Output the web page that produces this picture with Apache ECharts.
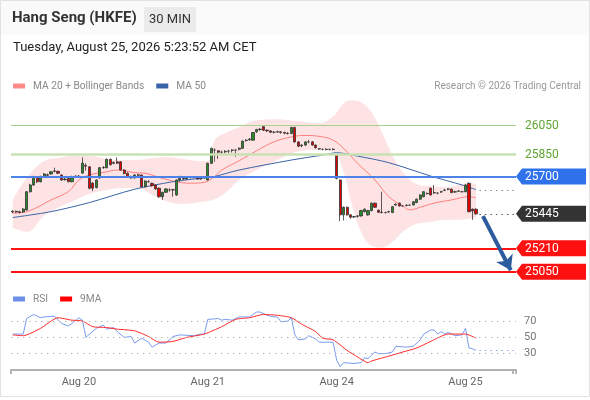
<!DOCTYPE html>
<html><head><meta charset="utf-8">
<script src="https://cdn.jsdelivr.net/npm/echarts@6/dist/echarts.min.js"></script>
<style>html,body{margin:0;padding:0;background:#fff}#c{width:590px;height:400px}</style>
</head><body><div id="c"></div>
<script>
// ---------- DATA ----------
const categoryCount = 145;
const tickIndex = [19, 56, 93, 130];
const tickLabels = ['Aug 20', 'Aug 21', 'Aug 24', 'Aug 25'];

const opens = [25462,25458,25460,25458,25472,25596,25642,25694,25664,25700,
25712,25717,25735,25735,25710,25678,25686,25664,25700,25700,
25723,25775,25766,25655,25625,25690,25760,25760,25817,25790,
25800,25800,25744,25722,25700,25690,25712,25710,25630,25665,
25653,25642,25620,25562,25592,25608,25608,25574,25676,25686,
25683,25692,25698,25690,25683,25692,25676,25790,25880,25875,
25866,25868,25873,25878,25880,25885,25892,25945,25950,25948,
26005,26020,26040,26016,26011,26002,26004,26005,26000,25993,
25993,26034,25936,25910,25914,25936,25936,25914,25890,25885,
25886,25885,25884,25846,25676,25438,25490,25438,25424,25428,
25431,25460,25438,25467,25518,25470,25456,25454,25458,25454,
25505,25518,25499,25502,25504,25506,25522,25545,25562,25585,
25620,25588,25586,25594,25606,25613,25613,25594,25599,25596,
25596,25653,25477,25477];
const closes = [25458,25462,25455,25478,25596,25642,25696,25664,25700,25717,
25708,25732,25738,25722,25676,25682,25664,25700,25702,25703,
25791,25770,25620,25620,25676,25760,25762,25817,25780,25796,
25790,25744,25720,25700,25690,25710,25708,25630,25669,25665,
25637,25615,25562,25592,25615,25608,25610,25676,25688,25683,
25692,25698,25692,25683,25692,25698,25790,25892,25880,25866,
25866,25872,25873,25880,25880,25893,25941,25948,25955,26000,
26020,26023,26016,26011,26002,26002,26005,26000,25995,25995,
26034,25936,25907,25914,25936,25936,25914,25896,25887,25885,
25884,25885,25886,25687,25438,25490,25438,25422,25426,25431,
25467,25477,25467,25518,25490,25456,25454,25454,25460,25494,
25511,25499,25499,25504,25504,25528,25545,25574,25596,25583,
25574,25590,25586,25596,25608,25615,25590,25596,25601,25596,
25642,25460,25465,25445];
const lows = [25450,25452,25448,25452,25468,25590,25636,25655,25660,25694,
25700,25712,25728,25716,25670,25672,25660,25660,25694,25696,
25718,25740,25612,25600,25618,25685,25752,25755,25775,25784,
25785,25740,25714,25694,25684,25686,25702,25624,25625,25656,
25630,25610,25555,25540,25588,25596,25562,25568,25665,25676,
25678,25688,25686,25678,25678,25686,25672,25784,25800,25820,
25850,25858,25860,25864,25835,25878,25888,25938,25944,25944,
25998,26012,26010,26004,25996,25994,25998,25992,25988,25986,
25988,25930,25900,25900,25908,25926,25910,25890,25880,25878,
25878,25878,25878,25680,25395,25400,25432,25412,25416,25420,
25426,25455,25432,25462,25485,25450,25448,25446,25452,25450,
25500,25494,25492,25496,25498,25502,25518,25540,25558,25576,
25570,25580,25578,25588,25600,25606,25586,25588,25594,25590,
25592,25455,25404,25438];
const highs = [25470,25468,25466,25485,25600,25650,25705,25700,25706,25724,
25720,25738,25760,25740,25714,25690,25690,25705,25708,25710,
25830,25790,25770,25660,25680,25765,25770,25822,25822,25802,
25830,25805,25750,25728,25706,25716,25718,25714,25674,25675,
25658,25646,25625,25596,25620,25620,25616,25680,25705,25692,
25698,25704,25703,25696,25698,25703,25794,25896,25892,25880,
25876,25880,25882,25886,25888,25898,25946,25955,25962,26004,
26025,26030,26045,26020,26015,26010,26012,26010,26006,26002,
26040,26040,25940,25920,25940,25950,25942,25918,25894,25890,
25892,25890,25892,25850,25680,25495,25495,25442,25432,25436,
25472,25482,25472,25522,25522,25474,25596,25460,25466,25498,
25516,25522,25505,25510,25510,25532,25550,25578,25600,25590,
25625,25642,25594,25602,25614,25620,25618,25602,25606,25602,
25648,25660,25482,25482];

// MA 20 and MA 50 read at [bar index, price]
const ma20 = [[0,25450],[4,25460],[11,25540],[16,25597],[19,25676],[22,25710],[27,25732],[30,25744],
[35,25726],[38,25722],[42,25694],[47,25664],[51,25654],[55,25660],[58,25700],[60,25744],[65,25807],
[70,25875],[75,25936],[80,25970],[84,25980],[89,25970],[92,25948],[95,25892],[99,25790],[104,25676],
[108,25562],[112,25499],[114,25472],[117,25490],[121,25518],[126,25540],[131,25562],[133,25554]];
const ma50 = [[0,25420],[11,25460],[22,25522],[35,25613],[46,25664],[54,25688],[57,25694],[65,25744],
[80,25812],[89,25846],[93,25862],[99,25839],[108,25794],[120,25703],[129,25642],[133,25610]];

// Bollinger bands
const bbIndex = [0,4,9,13,18,22,27,31,36,40,45,49,54,56,58,61,65,70,76,82,88,92,95,97,100,103,106,109,112,116,120,124,128,131,133];
const bbUpper = [25540,25690,25805,25826,25839,25839,25819,25812,25812,25826,25832,25819,25805,25805,25948,25996,26036,26084,26091,26077,26064,26111,26200,26220,26206,26138,26002,25846,25730,25649,25635,25628,25642,25656,25649];
const bbLower = [25350,25322,25431,25486,25540,25581,25608,25622,25622,25574,25526,25513,25526,25533,25547,25588,25676,25744,25812,25870,25880,25870,25730,25540,25322,25227,25214,25254,25322,25377,25390,25404,25404,25411,25418];

// Key levels
const levels = [26050, 25850, 25700, 25445, 25210, 25050];
const levelKinds = ['res', 'res', 'pivot', 'last', 'sup', 'sup'];
const maMarker = 25603;
const arrowFrom = [135, 25430];
const arrowTo = [143, 25060];

// RSI and its 9-period MA, read at [bar index, value]
const rsi = [[0,54],[3,54],[4,73],[6,78],[8,74],[9,75],[12,76],[14,67],[16,64],[17,67],[19,74],[20,71],[21,50],
[24,61],[26,65],[27,60],[29,62],[30,57],[32,50],[34,51],[35,43],[37,49],[39,44],[40,38],[42,43],[44,43],[46,51],
[48,53],[52,52],[54,54],[55,54],[56,72],[59,73],[60,71],[61,72],[63,71],[65,75],[68,75],[70,81],[71,81],[73,77],
[75,75],[76,75],[77,69],[79,70],[80,74],[81,53],[82,47],[84,48],[85,52],[86,50],[87,48],[88,44],[90,44],[92,44],
[93,22],[94,14],[95,19],[98,18],[100,19],[101,25],[102,24],[104,32],[105,30],[107,30],[109,32],[110,39],[113,38],
[115,39],[117,47],[118,54],[120,59],[121,59],[122,54],[123,57],[124,54],[125,56],[127,52],[129,53],[130,61],
[131,37],[132,36],[133,34]];
const rsiMa9 = [[0,53],[3,52],[8,61],[13,74],[17,71],[20,70],[23,63],[27,62],[30,60],[35,58],[39,51],[42,44],
[46,45],[50,50],[55,54],[60,63],[64,72],[68,74],[72,78],[76,77],[80,74],[83,66],[87,57],[89,49],[92,47],[96,34],
[99,26],[102,19],[103,21],[108,27],[112,32],[116,37],[120,45],[125,54],[129,54],[130,54],[133,49]];
const rsiLevels = [70, 50, 30];

// ---------- CHART ----------
const categories = Array.from({length: categoryCount}, (_, i) => String(i));
const candles = opens.map((o, i) => [o, closes[i], lows[i], highs[i]]);
const bandLow = bbIndex.map((x, i) => [x, bbLower[i]]);
const bandWidth = bbIndex.map((x, i) => [x, bbUpper[i] - bbLower[i]]);
const lastIdx = opens.length - 1;
const FONT = 'Roboto, Liberation Sans, Arial, sans-serif';

const lineColors = {26050: '#a9d18e', 25850: '#c8e2b3', 25700: '#4d82e8', 25210: '#ff1414', 25050: '#ff1414'};
const lineWidths = {26050: 1.2, 25850: 2.5, 25700: 2, 25210: 2, 25050: 2};

const markLines = levels.filter((v, i) => levelKinds[i] !== 'last').map(v => ({
  yAxis: v, lineStyle: {color: lineColors[v], width: lineWidths[v], type: 'solid'}
}));
markLines.push([{coord: [lastIdx + 1, levels[3]]}, {coord: [categoryCount - 1, levels[3]],
  lineStyle: {color: '#555', width: 1, type: [1.5, 4]}}]);
markLines.push([{coord: [lastIdx + 1, maMarker]}, {coord: [categoryCount - 1, maMarker],
  lineStyle: {color: '#888', width: 1, type: [1.5, 4]}}]);
markLines.push([{coord: arrowFrom, symbol: 'none'}, {coord: arrowTo, symbol: 'arrow', symbolSize: 14,
  lineStyle: {color: '#2c5b9e', width: 4, type: 'solid'}}]);

const tagColors = {pivot: '#2f72ec', last: '#333333', sup: '#ff1010'};
function renderTag(params, api) {
  const i = params.dataIndex;
  const y = api.coord([0, api.value(1)])[1];
  const cs = params.coordSys;
  const x0 = cs.x + cs.width;
  const kind = levelKinds[i];
  const txt = String(levels[i]);
  const text = {type: 'text', style: {x: x0 + 9, y: y + 0.5, text: txt, font: '12px ' + FONT,
    fill: kind === 'res' ? '#5fa531' : '#fff', verticalAlign: 'middle', align: 'left'}};
  if (kind === 'res') return text;
  return {type: 'group', children: [
    {type: 'polygon', shape: {points: [[x0, y], [x0 + 6, y - 8], [x0 + 70, y - 8], [x0 + 70, y + 8], [x0 + 6, y + 8]]},
      style: {fill: tagColors[kind]}},
    text
  ]};
}

const chart = echarts.init(document.getElementById('c'), null, {renderer: 'canvas'});
chart.setOption({
  animation: false,
  backgroundColor: '#fff',
  textStyle: {fontFamily: FONT},
  graphic: [
    {type: 'rect', z: -10, shape: {x: 0, y: 0, width: 590, height: 35}, style: {fill: '#fafafa'}},
    {type: 'rect', z: -10, shape: {x: 0.5, y: 0.5, width: 589, height: 396}, style: {fill: 'none', stroke: '#e2e2e2'}}
  ],
  title: [
    {text: 'Hang Seng (HKFE)', left: 12, top: 11, padding: 0,
      textStyle: {fontSize: 15, fontWeight: 'bold', color: '#333', fontFamily: FONT}},
    {text: '30 MIN', left: 144, top: 7, padding: [6, 5], backgroundColor: '#ebebeb',
      textStyle: {fontSize: 13, fontWeight: 'normal', color: '#333', fontFamily: FONT}},
    {text: 'Tuesday, August 25, 2026 5:23:52 AM CET', left: 13, top: 41, padding: 0,
      textStyle: {fontSize: 13, fontWeight: 'normal', color: '#222', fontFamily: FONT}},
    {text: 'Research \u00a9 2026 Trading Central', right: 9, top: 81, padding: 0,
      textStyle: {fontSize: 10, fontWeight: 'normal', color: '#999', fontFamily: FONT}}
  ],
  legend: [
    {left: 13, top: 81, padding: 0, itemWidth: 12, itemHeight: 5, itemGap: 12, selectedMode: false,
      icon: 'rect', textStyle: {fontSize: 10.2, color: '#888', fontFamily: FONT, padding: [0, 0, 0, 3]},
      data: [{name: 'MA 20 + Bollinger Bands', itemStyle: {color: '#ff8a8a'}},
             {name: 'MA 50', itemStyle: {color: '#3a64a8'}}]},
    {left: 13, top: 294, padding: 0, itemWidth: 12, itemHeight: 5, itemGap: 12, selectedMode: false,
      icon: 'rect', textStyle: {fontSize: 10.2, color: '#888', fontFamily: FONT, padding: [0, 0, 0, 3]},
      data: [{name: 'RSI', itemStyle: {color: '#6d8fe8'}}, {name: '9MA', itemStyle: {color: '#ff0000'}}]}
  ],
  grid: [
    {left: 11, right: 74, top: 90, height: 192},
    {left: 11, right: 74, top: 296.5, height: 73.5}
  ],
  xAxis: [
    {type: 'category', gridIndex: 0, data: categories, boundaryGap: true, show: false},
    {type: 'category', gridIndex: 1, data: categories, boundaryGap: true,
      axisLine: {show: true, lineStyle: {color: '#b3b3b3', width: 2}},
      axisTick: {show: true, length: 4, interval: (i) => i === 0 || i === categoryCount - 1,
        lineStyle: {color: '#b3b3b3', width: 2}},
      axisLabel: {show: true, margin: 7, color: '#666', fontSize: 11, fontFamily: FONT,
        interval: (i) => tickIndex.includes(i),
        formatter: (v, i) => { const k = tickIndex.indexOf(i); return k >= 0 ? tickLabels[k] : ''; }},
      splitLine: {show: false}}
  ],
  yAxis: [
    {type: 'value', gridIndex: 0, min: 24980, max: 26290, show: false, splitLine: {show: false}},
    {type: 'value', gridIndex: 1, min: 10, max: 100, interval: 10, position: 'right',
      axisLine: {show: false}, axisTick: {show: false}, splitLine: {show: false},
      axisLabel: {margin: 8, color: '#777', fontSize: 11, fontFamily: FONT,
        formatter: (v) => rsiLevels.includes(v) ? String(v) : ''}}
  ],
  series: [
    {name: 'bbLow', type: 'line', xAxisIndex: 0, yAxisIndex: 0, data: bandLow, stack: 'bb', smooth: 0.4,
      symbol: 'none', lineStyle: {opacity: 0}, silent: true, z: 1},
    {name: 'bbBand', type: 'line', xAxisIndex: 0, yAxisIndex: 0, data: bandWidth, stack: 'bb', smooth: 0.4,
      symbol: 'none', lineStyle: {opacity: 0}, areaStyle: {color: '#fde3e3', opacity: 1}, silent: true, z: 1},
    {name: 'MA 20 + Bollinger Bands', type: 'line', xAxisIndex: 0, yAxisIndex: 0, data: ma20, smooth: 0.4,
      symbol: 'none', lineStyle: {color: '#ff8080', width: 1}, itemStyle: {color: '#ff8a8a'}, z: 3},
    {name: 'MA 50', type: 'line', xAxisIndex: 0, yAxisIndex: 0, data: ma50, smooth: 0.3,
      symbol: 'none', lineStyle: {color: '#3a64a8', width: 1}, itemStyle: {color: '#3a64a8'}, z: 3},
    {name: 'price', type: 'candlestick', xAxisIndex: 0, yAxisIndex: 0, data: candles, barWidth: '75%',
      itemStyle: {color: '#2a8a2a', color0: '#e00000', borderColor: '#333', borderColor0: '#333',
        borderColorDoji: '#444', borderWidth: 0.8}, z: 4,
      markLine: {silent: true, symbol: 'none', label: {show: false}, animation: false, z: 5, data: markLines}},
    {name: 'tags', type: 'custom', xAxisIndex: 0, yAxisIndex: 0, clip: false, silent: true, z: 10,
      data: levels.map(v => [categoryCount - 1, v]), renderItem: renderTag},
    {name: 'RSI', type: 'line', xAxisIndex: 1, yAxisIndex: 1, data: rsi, symbol: 'none',
      lineStyle: {color: '#7a9cf0', width: 1}, itemStyle: {color: '#6d8fe8'}, z: 3,
      markLine: {silent: true, symbol: 'none', label: {show: false}, animation: false,
        data: rsiLevels.map(v => ({yAxis: v, lineStyle: {color: '#bbb', width: 1, type: [1.5, 4.5]}}))
          .concat([[{coord: [lastIdx + 1, rsi[rsi.length - 1][1]]},
                    {coord: [categoryCount - 1, rsi[rsi.length - 1][1]], lineStyle: {color: '#8fa8f0', width: 1, type: [1.5, 4]}}]])}},
    {name: '9MA', type: 'line', xAxisIndex: 1, yAxisIndex: 1, data: rsiMa9, symbol: 'none', smooth: 0.2,
      lineStyle: {color: '#ff2a2a', width: 1}, itemStyle: {color: '#ff0000'}, z: 4}
  ]
});
</script></body></html>
